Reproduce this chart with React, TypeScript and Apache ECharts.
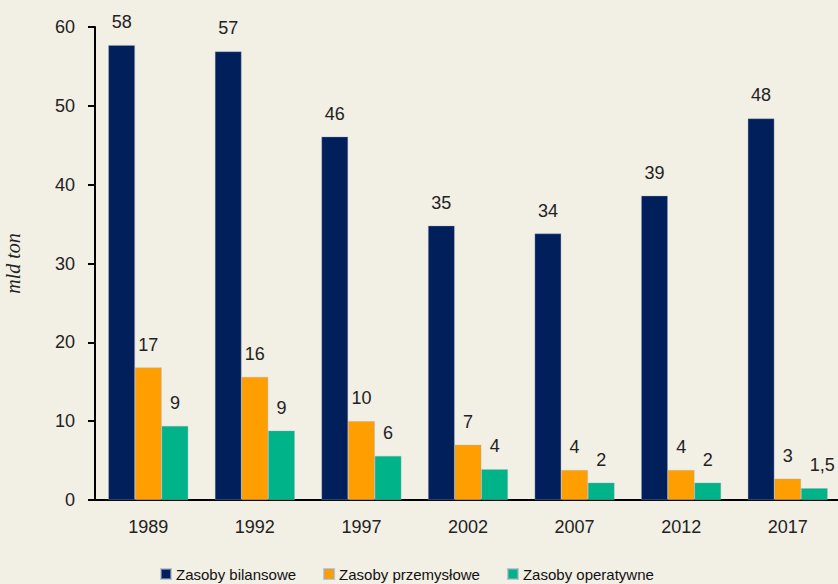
import React, { useEffect, useRef } from "react";
import * as echarts from "echarts";

const years = ["1989", "1992", "1997", "2002", "2007", "2012", "2017"];
const bilansowe = [57.7, 56.9, 46.1, 34.8, 33.8, 38.6, 48.4];
const przemyslowe = [16.8, 15.6, 10.0, 7.0, 3.8, 3.8, 2.7];
const operatywne = [9.4, 8.8, 5.6, 3.9, 2.2, 2.2, 1.5];
const bilansoweLabels = ["58", "57", "46", "35", "34", "39", "48"];
const przemysloweLabels = ["17", "16", "10", "7", "4", "4", "3"];
const operatywneLabels = ["9", "9", "6", "4", "2", "2", "1,5"];
const seriesNames = ["Zasoby bilansowe", "Zasoby przemysłowe", "Zasoby operatywne"];
const yTicks = { min: 0, max: 60, interval: 10 };

const FONT = "'Liberation Sans', Arial, Helvetica, sans-serif";
const BG = "#f2efe4";
const colors = ["#001f5b", "#ff9e00", "#00b388"];

export default function App() {
  const ref = useRef<HTMLDivElement>(null);
  useEffect(() => {
    if (!ref.current) return;
    const chart = echarts.init(ref.current, undefined, { renderer: "svg" });
    const labelStyle = {
      show: true,
      position: "top" as const,
      distance: 14,
      color: "#222",
      fontFamily: FONT,
      fontSize: 18,
    };
    const mk = (name: string, values: number[], labels: string[], color: string) => ({
      name,
      type: "bar",
      data: values.map((v, i) => ({
        value: v,
        label: i === values.length - 1 && labels[i].includes(",") ? { offset: [8, 0] } : undefined,
      })),
      itemStyle: { color, borderColor: "rgba(160,170,190,0.6)", borderWidth: 0.6 },
      barGap: "0%",
      barCategoryGap: "25%",
      label: {
        ...labelStyle,
        formatter: (p: any) => labels[p.dataIndex],
      },
    });
    chart.setOption({
      animation: false,
      backgroundColor: BG,
      color: colors,
      grid: { left: 95, right: -3, top: 27, bottom: 84, containLabel: false, outerBoundsMode: "none" },
      legend: {
        top: 566,
        left: 160,
        padding: 0,
        itemWidth: 10,
        itemHeight: 10,
        itemGap: 27,
        itemTextGap: 4,
        icon: "rect",
        textStyle: { fontFamily: FONT, fontSize: 15, color: "#111", lineHeight: 16 },
        data: seriesNames,
      },
      xAxis: {
        type: "category",
        data: years,
        axisLine: { lineStyle: { color: "#000", width: 2 } },
        axisTick: { show: false },
        axisLabel: { fontFamily: FONT, fontSize: 18, color: "#222", margin: 18 },
      },
      yAxis: {
        type: "value",
        min: yTicks.min,
        max: yTicks.max,
        interval: yTicks.interval,
        name: "mld ton",
        nameLocation: "middle",
        nameGap: 72,
        nameTextStyle: {
          fontFamily: "'Liberation Serif', 'Times New Roman', serif",
          fontStyle: "italic",
          fontSize: 20,
          color: "#222",
        },
        splitLine: { show: false },
        axisLine: { show: true, lineStyle: { color: "#000", width: 2 } },
        axisTick: { show: true, length: 7, lineStyle: { color: "#000", width: 2 } },
        axisLabel: { fontFamily: FONT, fontSize: 18, color: "#222", margin: 20 },
      },
      series: [
        mk(seriesNames[0], bilansowe, bilansoweLabels, colors[0]),
        mk(seriesNames[1], przemyslowe, przemysloweLabels, colors[1]),
        mk(seriesNames[2], operatywne, operatywneLabels, colors[2]),
      ],
    });
    return () => chart.dispose();
  }, []);
  return <div ref={ref} style={{ width: 838, height: 584, position: "absolute", left: 0, top: 0 }} />;
}
